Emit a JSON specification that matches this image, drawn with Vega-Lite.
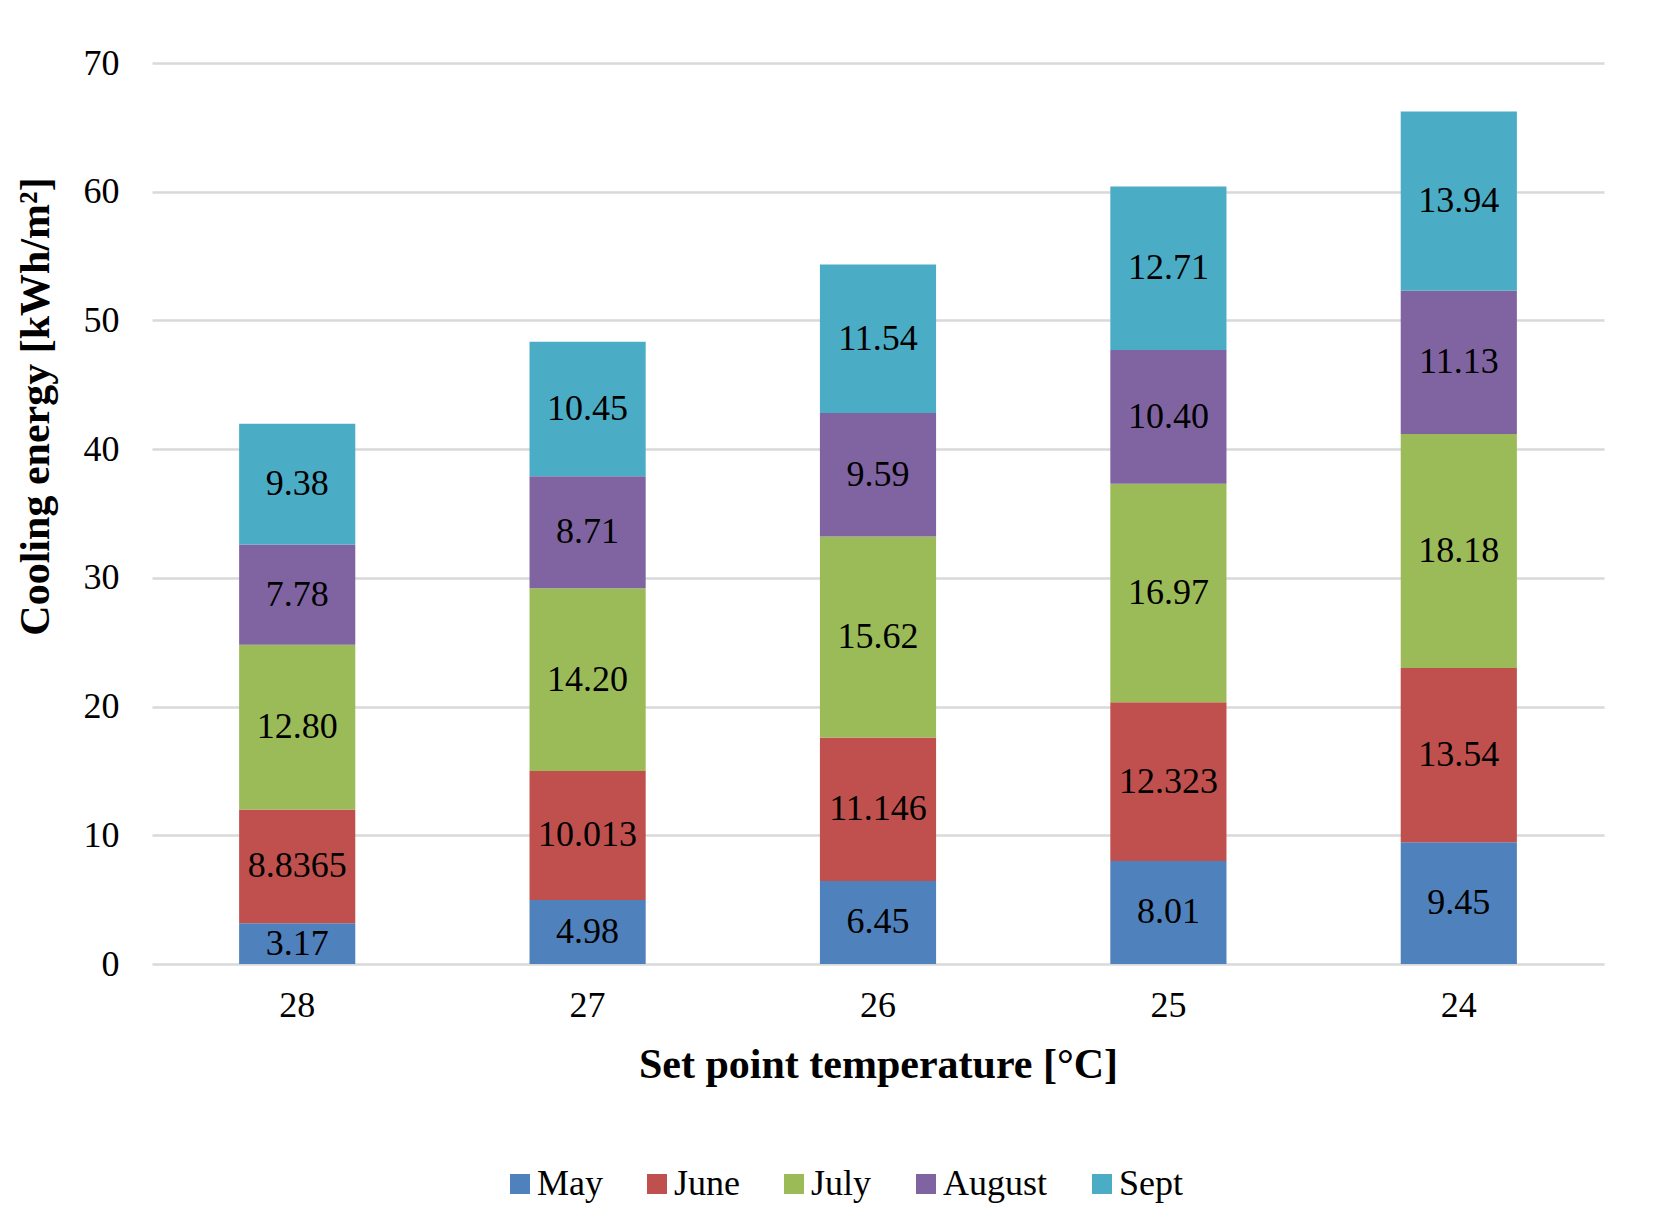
{
  "$schema": "https://vega.github.io/schema/vega-lite/v6.json",
  "autosize": {"type": "none"},
  "width": 1452,
  "height": 901,
  "padding": {"left": 152, "top": 63, "right": 53, "bottom": 267},
  "background": "white",
  "config": {
    "view": {"stroke": null},
    "font": "Liberation Serif",
    "axis": {"labelColor": "black", "titleColor": "black", "labelFont": "Liberation Serif", "titleFont": "Liberation Serif"},
    "legend": {"labelColor": "black", "labelFont": "Liberation Serif"}
  },
  "data": {
    "values": [
      {"temp": "28", "month": "May", "energy": 3.17, "label": "3.17"},
      {"temp": "28", "month": "June", "energy": 8.8365, "label": "8.8365"},
      {"temp": "28", "month": "July", "energy": 12.80, "label": "12.80"},
      {"temp": "28", "month": "August", "energy": 7.78, "label": "7.78"},
      {"temp": "28", "month": "Sept", "energy": 9.38, "label": "9.38"},
      {"temp": "27", "month": "May", "energy": 4.98, "label": "4.98"},
      {"temp": "27", "month": "June", "energy": 10.013, "label": "10.013"},
      {"temp": "27", "month": "July", "energy": 14.20, "label": "14.20"},
      {"temp": "27", "month": "August", "energy": 8.71, "label": "8.71"},
      {"temp": "27", "month": "Sept", "energy": 10.45, "label": "10.45"},
      {"temp": "26", "month": "May", "energy": 6.45, "label": "6.45"},
      {"temp": "26", "month": "June", "energy": 11.146, "label": "11.146"},
      {"temp": "26", "month": "July", "energy": 15.62, "label": "15.62"},
      {"temp": "26", "month": "August", "energy": 9.59, "label": "9.59"},
      {"temp": "26", "month": "Sept", "energy": 11.54, "label": "11.54"},
      {"temp": "25", "month": "May", "energy": 8.01, "label": "8.01"},
      {"temp": "25", "month": "June", "energy": 12.323, "label": "12.323"},
      {"temp": "25", "month": "July", "energy": 16.97, "label": "16.97"},
      {"temp": "25", "month": "August", "energy": 10.40, "label": "10.40"},
      {"temp": "25", "month": "Sept", "energy": 12.71, "label": "12.71"},
      {"temp": "24", "month": "May", "energy": 9.45, "label": "9.45"},
      {"temp": "24", "month": "June", "energy": 13.54, "label": "13.54"},
      {"temp": "24", "month": "July", "energy": 18.18, "label": "18.18"},
      {"temp": "24", "month": "August", "energy": 11.13, "label": "11.13"},
      {"temp": "24", "month": "Sept", "energy": 13.94, "label": "13.94"}
    ]
  },
  "transform": [
    {"calculate": "indexof(['May','June','July','August','Sept'], datum.month)", "as": "ord"}
  ],
  "encoding": {
    "x": {
      "field": "temp", "type": "nominal",
      "sort": ["28", "27", "26", "25", "24"],
      "scale": {"paddingInner": 0.6, "paddingOuter": 0.3},
      "axis": {
        "labelAngle": 0, "labelFontSize": 36, "labelPadding": 24,
        "ticks": false, "domain": false,
        "title": "Set point temperature [°C]",
        "titleFontSize": 42, "titleFontWeight": "bold",
        "titleY": 113, "titleBaseline": "alphabetic"
      }
    }
  },
  "layer": [
    {
      "mark": {"type": "bar"},
      "encoding": {
        "y": {
          "field": "energy", "type": "quantitative", "stack": "zero",
          "title": "Cooling energy [kWh/m²]",
          "scale": {"domain": [0, 70]},
          "axis": {
            "values": [0, 10, 20, 30, 40, 50, 60, 70],
            "labelFontSize": 36, "labelPadding": 33,
            "grid": true, "gridColor": "#D9D9D9", "gridWidth": 2.5,
            "domain": false, "ticks": false,
            "titleFontSize": 42, "titleFontWeight": "bold",
            "titleAngle": -90, "titleAlign": "center", "titleBaseline": "middle",
            "titleX": -117, "titleY": 343
          }
        },
        "color": {
          "field": "month", "type": "nominal",
          "scale": {
            "domain": ["May", "June", "July", "August", "Sept"],
            "range": ["#4F81BD", "#C0504D", "#9BBB59", "#8064A2", "#4BACC6"]
          },
          "legend": {
            "orient": "none", "legendX": 350, "legendY": 1103,
            "direction": "horizontal", "title": null, "padding": 0,
            "symbolType": "square", "symbolSize": 400, "symbolStrokeWidth": 0,
            "labelFontSize": 36, "labelOffset": -1, "columnPadding": 36
          }
        },
        "order": {"field": "ord", "type": "quantitative"}
      }
    },
    {
      "transform": [
        {"stack": "energy", "groupby": ["temp"], "sort": [{"field": "ord"}], "as": ["y0", "y1"]},
        {"calculate": "(datum.y0 + datum.y1) / 2", "as": "mid"}
      ],
      "mark": {"type": "text", "fontSize": 36, "baseline": "middle", "color": "black", "font": "Liberation Serif"},
      "encoding": {
        "y": {"field": "mid", "type": "quantitative", "title": "Cooling energy [kWh/m²]"},
        "text": {"field": "label"}
      }
    }
  ]
}
